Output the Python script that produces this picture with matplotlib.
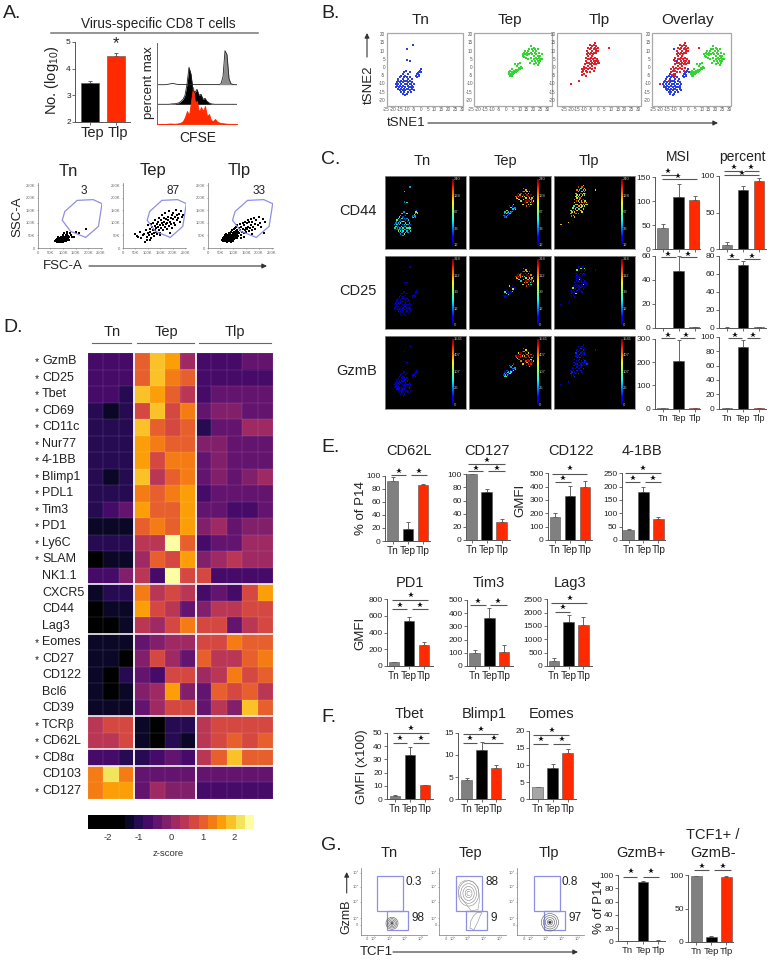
#!/usr/bin/env python3
"""Multi-panel T cell figure: flow plots, tSNE maps, z-score heatmap and bar charts."""

import numpy as np
import matplotlib
matplotlib.use("Agg")
import matplotlib.pyplot as plt
from matplotlib.colors import ListedColormap
from matplotlib.patches import Ellipse, Polygon, Rectangle

plt.rcParams["font.family"] = ["Liberation Sans", "DejaVu Sans"]
plt.rcParams["mathtext.default"] = "regular"

W, H = 772, 960
NARROW = ["Liberation Sans Narrow", "Liberation Sans", "DejaVu Sans"]
GREY, BLACK, RED = "#808080", "#000000", "#ff2a00"
GATE = "#8f8fe6"
TEXT = "#222222"

# ---------------------------------------------------------------------------
# Data
# ---------------------------------------------------------------------------
GROUPS = ["Tn", "Tep", "Tlp"]

# panel A, log10 counts and CFSE traces
COUNT_VALS = [3.47, 4.47]
COUNT_TOPS = [3.55, 4.58]
CFSE_X = list(range(0, 82, 2))
CFSE_TN = [0, 0, 0, 0, 0, .3, .6, 1, 1.2, .8, .4, .2, .2, .3, .2, .2, .2, .2, .2, .1, .1, .1, .1, .1, .1, .1, .1, .1, .1, .1, .1,
           .2, 1, 8, 34, 30, 6, 1, .2, 0, 0]
CFSE_TEP = [0, 0, 0, 0, 0, 0, 0, .3, .5, .5, 1, 1.5, 3, 5, 9, 20, 37, 30, 14, 12, 15, 9, 10, 5, 6, 3, 1.5, .5, .2, 0, 0,
            0, 0, 0, 0, 0, 0, 0, 0, 0, 0]
CFSE_TLP = [0, 0, 0, 0, 0, .2, .5, .5, .3, .3, .5, .8, 1.5, 3, 7, 13, 9, 22, 37, 22, 23, 12, 17, 13, 18, 8, 10, 4, 3, 5, 2.5,
            1.5, 1, .8, .5, .3, .2, .1, .1, .1, .1]

# panel A, FSC/SSC events in thousands
FACS_TN = [(70, 28), (72, 33), (75, 25), (76, 37), (78, 30), (80, 22), (80, 42), (82, 27), (83, 35), (85, 31), (85, 25),
           (86, 40), (88, 28), (88, 36), (90, 22), (90, 33), (92, 45), (92, 27), (93, 38), (95, 30), (95, 24), (96, 35),
           (97, 42), (98, 28), (99, 50), (100, 33), (100, 22), (102, 38), (103, 29), (104, 45), (105, 35), (106, 26),
           (107, 41), (108, 31), (110, 52), (110, 37), (112, 28), (113, 44), (115, 33), (116, 55), (118, 38), (120, 48),
           (122, 30), (125, 42), (128, 60), (130, 50), (135, 45), (145, 45), (150, 65), (165, 60), (190, 75), (115, 62),
           (105, 58)]
FACS_TEP = [(50, 55), (55, 48), (62, 42), (70, 62), (72, 40), (80, 50), (85, 55), (90, 25), (92, 70), (95, 45), (98, 32),
            (100, 60), (102, 90), (105, 50), (108, 75), (110, 65), (112, 40), (114, 95), (116, 55), (118, 85), (120, 72),
            (122, 100), (124, 60), (126, 48), (128, 88), (130, 110), (132, 78), (134, 65), (136, 95), (138, 55), (140, 105),
            (142, 85), (144, 120), (146, 72), (148, 92), (150, 60), (152, 112), (154, 80), (156, 100), (158, 130), (160, 70),
            (162, 90), (164, 120), (166, 105), (168, 82), (170, 140), (172, 95), (174, 115), (176, 75), (178, 100), (180, 125),
            (182, 110), (184, 88), (186, 145), (188, 105), (190, 60), (192, 120), (194, 95), (196, 130), (198, 80), (200, 115),
            (202, 140), (205, 100), (208, 125), (210, 90), (212, 150), (215, 110), (218, 130), (220, 120), (225, 135),
            (228, 105), (232, 145), (235, 125), (240, 130), (150, 50), (130, 70), (110, 30)]
FACS_TLP = [(55, 32), (58, 40), (60, 28), (62, 35), (63, 45), (65, 30), (66, 38), (68, 50), (68, 26), (70, 34), (71, 42),
            (72, 30), (73, 55), (74, 37), (75, 25), (76, 46), (77, 33), (78, 40), (79, 52), (80, 29), (81, 36), (82, 60),
            (83, 44), (84, 32), (85, 49), (86, 38), (87, 27), (88, 56), (89, 42), (90, 34), (91, 65), (92, 47), (93, 30),
            (94, 53), (95, 39), (96, 70), (97, 45), (98, 33), (99, 58), (100, 42), (101, 75), (102, 50), (103, 36), (104, 62),
            (105, 46), (106, 80), (107, 55), (108, 40), (109, 68), (110, 50), (111, 85), (112, 60), (113, 44), (114, 72),
            (115, 55), (116, 90), (118, 65), (120, 48), (122, 78), (124, 58), (126, 95), (128, 70), (130, 52), (132, 85),
            (134, 65), (136, 100), (138, 75), (140, 58), (142, 92), (144, 70), (146, 105), (148, 80), (150, 62), (152, 98),
            (154, 75), (156, 110), (158, 85), (160, 68), (162, 102), (165, 80), (168, 115), (170, 90), (172, 72), (175, 105),
            (178, 85), (180, 120), (183, 95), (186, 75), (190, 110), (195, 90), (200, 125), (205, 100), (210, 85), (215, 115),
            (220, 60), (222, 105), (130, 40), (115, 38), (100, 28), (90, 24), (140, 45), (175, 55)]
FACS_GATE = [(156, 189), (219, 192), (254, 176), (240, 86), (190, 42), (130, 66), (97, 110), (107, 145)]
FACS_PCT = ["3", "87", "33"]

# panel B and C, tSNE coordinates
TSNE_TN = [(-5.5, 14), (-10, 11), (-10, 4.5), (-8, 4), (-3.5, -5), (-3, -4), (-2.5, -5.5), (-2, -3.5), (-1.5, -4.5), (-1, -3),
           (-.5, -2), (0, -1), (.5, -2.5), (-1, -5), (-18, -10), (-17.5, -12), (-17, -9), (-17, -11), (-16.5, -8), (-16, -13),
           (-16, -10), (-16, -7), (-15.5, -12), (-15, -9), (-15, -14), (-15, -11), (-15, -6), (-14.5, -13), (-14, -8), (-14, -10),
           (-14, -15), (-14, -5), (-13.5, -12), (-13, -7), (-13, -14), (-13, -9), (-13, -16), (-13, -4), (-12.5, -11), (-12, -13),
           (-12, -6), (-12, -8), (-12, -15), (-12, -3), (-11.5, -10), (-11, -12), (-11, -17), (-11, -5), (-11, -14), (-11, -8),
           (-10.5, -2), (-10, -10), (-10, -16), (-10, -6), (-10, -13), (-10, -8), (-9.5, -11), (-9, -15), (-9, -4), (-9, -9),
           (-9, -13), (-9, -7), (-8.5, -12), (-8, -10), (-8, -6), (-8, -14), (-8, -3), (-7.5, -8), (-7, -12), (-7, -10), (-7, -15),
           (-6.5, -7), (-6, -11), (-6, -9), (-6, -13), (-5, -10), (-5, -14), (-5.5, -12)]
TSNE_TEP_SMALL = [(2, -4), (2.5, -3), (3, -5), (3, -2), (3.5, -4), (4, -3), (4, -5), (4.5, -1), (5, -4), (5, -2.5), (6, -3.5),
                  (6, -2), (6.5, 2), (7, -3), (7.5, -1.5), (8, 1), (8, -2), (9, -1.5), (9, 2), (9.5, 0), (10, -1), (10, 3),
                  (11, .5), (11.5, -.5)]
TSNE_TEP_BIG = [(12, 8), (12.5, 7), (13, 9), (13, 6.5), (14, 8), (14, 10), (14.5, 6), (15, 9), (15.5, 7.5), (16, 5), (16, 10),
                (17, 8), (17, 11), (17.5, 3), (18, 13), (18, 9), (18, 6), (18.5, 11), (19, 4), (19, 8), (19.5, 10), (20, 12),
                (20, 5), (20, 7), (20.5, 2), (21, 9), (21, 11), (21, 4), (21.5, 6), (22, 10), (22, 8), (22, 3), (22.5, 5), (23, 7),
                (23, 11), (23, 1.5), (23.5, 4), (24, 6), (24, 9), (24, 3), (24.5, 5), (25, 7), (25, 4), (26, 5), (26, 8)]
TSNE_TLP = [(-20, -10), (-14, -8.5), (8, 12), (-12, -3), (-12, -1), (-11.5, -4.5), (-11, -2), (-10.5, .5), (-10, -4), (-10, -1),
            (-9.5, 2), (-9, -5), (-9, -2), (-9, 4), (-9, 6), (-8.5, 0), (-8, -3), (-8, 3), (-8, 8), (-8, 10), (-7.5, 5), (-7, 1),
            (-7, -1), (-7, 7), (-7, 9), (-7, 12), (-6.5, 3), (-6, -3), (-6, 5), (-6, 8), (-6, 11), (-6, 14), (-5.5, 0), (-5, 2),
            (-5, 6), (-5, 9), (-5, 12), (-5, 4), (-4.5, 7), (-4, -1), (-4, 1), (-4, 3), (-4, 10), (-4, 13), (-3.5, 5), (-3.5, 8),
            (-3, 2), (-3, 4), (-3, 11), (-3, 14), (-2.5, 9), (-2, 0), (-2, 3), (-2, 6), (-2, 12), (-2, 15), (-1.5, 10), (-1, 2),
            (-1, 4), (-1, 9), (-1, 11), (-1, 13), (-.5, 5), (0, 3), (0, 10), (0, 12), (.5, 4), (1, 3), (-3, -2), (-6, 2)]
TSNE_TEP = TSNE_TEP_SMALL + TSNE_TEP_BIG

# panel C, expression levels (0-1 on the jet scale), repeated along each population
CD44_TN = [.3, .35, .25, .45, .3, .2, .38, .5, .28, .33, .55, .22, .4, .3]
CD44_TEP_SMALL = [.25, .3, .2, .35, .15, .4, .28, .5]
CD44_TEP_BIG = [.85, .7, .95, .65, .8, .9, .6, .75, 1.0, .55]
CD44_TLP = [.7, .65, .6, .75, .5, .8, .68, .55, .72, .85, .4]
CD25_TN = [.05, .07, .04, .09]
CD25_TEP_SMALL = [.06, .08, .1, .45, .08, .6, .06]
CD25_TEP_BIG = [.9, .7, .95, .6, .85, 1, .45, .8, .75, .35]
CD25_TLP = [.06, .08, .1, .05, .12, .07, .09, .5, .08]
GZMB_TN = [.07, .1, .06, .12]
GZMB_TEP_SMALL = [.2, .3, .4, .15, .35, .25, .5]
GZMB_TEP_BIG = [.9, .78, 1, .7, .95, .65, .85, .88]
GZMB_TLP = [.08, .11, .14, .18, .07, .1, .16, .09]
SCALE_LABELS = {"CD44": ["240", "128", "67", "33", "12"],
                "CD25": ["318", "112", "39", "12", "0"],
                "GzmB": ["1541", "407", "107", "26", "0"]}

# heatmap z-scores, 3 Tn + 4 Tep + 5 Tlp columns
MARKERS = ["GzmB", "CD25", "Tbet", "CD69", "CD11c", "Nur77", "4-1BB", "Blimp1", "PDL1", "Tim3", "PD1", "Ly6C", "SLAM", "NK1.1",
           "CXCR5", "CD44", "Lag3", "Eomes", "CD27", "CD122", "Bcl6", "CD39", "TCRβ", "CD62L", "CD8α", "CD103", "CD127"]
STARRED = ["GzmB", "CD25", "Tbet", "CD69", "CD11c", "Nur77", "4-1BB", "Blimp1", "PDL1", "Tim3", "PD1", "Ly6C", "SLAM",
           "Eomes", "CD27", "TCRβ", "CD62L", "CD8α", "CD127"]
ZSCORES = [
    [-.72, -.72, -.72, 1.0, 1.9, 1.6, .14, -.72, -.72, -.72, -.43, -.43],
    [-.72, -.72, -.72, 1.0, 1.9, 1.3, 1.0, -.72, -.72, -.72, -.72, -.72],
    [-.72, -.72, -1.0, 1.9, 1.6, 1.0, .43, -.72, -.43, -.43, -.43, -.43],
    [-1.0, -1.3, -1.0, .72, 1.9, .72, 1.3, -.43, -.14, -.14, -.43, -.43],
    [-1.0, -1.0, -1.0, 1.9, 1.0, .72, 1.0, -1.0, -.43, -.43, .14, .14],
    [-1.0, -1.0, -1.0, 1.6, 1.3, 1.0, 1.0, -.14, -.14, -.43, -.43, -.43],
    [-1.0, -1.0, -1.0, 1.6, .72, 1.3, 1.3, -.43, -.14, -.43, -.43, -.43],
    [-1.0, -1.3, -1.0, 1.9, .43, 1.0, 1.3, -.43, -.14, -.43, -.14, .14],
    [-1.0, -1.0, -1.0, 1.3, 1.0, 1.3, 1.6, -.72, -.43, -.43, -.43, -.43],
    [-1.0, -.72, -.43, 1.6, 1.0, 1.0, 1.6, -.43, -.43, -.72, -.72, -.43],
    [-1.3, -1.3, -1.3, 1.0, 1.3, 1.0, 1.6, -.14, .14, -.43, -.14, -.14],
    [-1.0, -1.0, -1.0, .43, .43, 2.46, 1.0, -.72, -.43, -.43, .14, .14],
    [-1.74, -1.3, -1.3, .14, 1.0, .72, 1.6, -.14, .14, .43, .14, .14],
    [-.72, -.72, -.14, .43, -.72, 2.46, .72, .72, -.72, -.72, -.72, -.72],
    [-1.3, -1.0, -1.0, 1.3, .43, .72, .43, -.72, -.43, -.72, .72, 1.6],
    [-1.74, -1.3, -1.3, 1.6, .72, .43, -.43, -.14, .43, .43, .72, .72],
    [-1.74, -1.74, -1.3, .43, .14, .72, 1.3, .72, .72, -.43, .43, .72],
    [-1.3, -1.3, -1.3, -.43, -.14, .14, .14, .72, .72, 1.3, 1.0, 1.0],
    [-1.3, -1.3, -1.74, -.14, .72, .14, -.43, 1.0, .43, .43, 1.0, 1.3],
    [-1.3, -1.74, -1.0, -.43, -.72, .72, .72, .14, .43, 1.3, .72, 1.0],
    [-1.3, -1.74, -1.3, -.14, .14, 1.6, -.14, -.43, 1.0, .72, 1.0, .43],
    [-1.3, -1.3, -1.3, -.43, .14, .72, .72, -.43, .43, -.14, 1.9, 1.0],
    [.43, .72, .72, -1.3, -1.74, -1.0, -1.0, .43, .72, .72, .72, .72],
    [.43, .43, .72, -1.3, -1.74, -1.0, -1.3, .43, .72, 1.0, .72, 1.0],
    [-.72, -.72, -1.0, -1.0, -.72, -.43, -.72, .43, 1.0, 1.9, 1.0, 1.0],
    [1.3, 2.17, 1.3, -.43, -.43, -.43, -.43, -.43, -.43, -.43, -.43, -.43],
    [1.3, 1.6, 1.6, -.43, .14, -.14, -.14, -.72, -.72, -.72, -.72, -.72],
]
ZTICKS = [-2, -1, 0, 1, 2]

# bar values (mean, top of the error bar) in Tn, Tep, Tlp order
MSI_CD44 = ([43, 108, 102], [52, 135, 111])
PCT_CD44 = ([5, 81, 93], [9, 86, 97])
MSI_CD25 = ([.2, 47, .5], [.3, 60, 1])
PCT_CD25 = ([.5, 70, 1], [.8, 74, 1.4])
MSI_GZMB = ([2, 205, 4], [3, 295, 5])
PCT_GZMB = ([.5, 86, .5], [.7, 95, .7])
E_CD62L = ([92, 18, 86], [98, 29, 87])
E_CD127 = ([100, 73, 27], [101, 78, 32])
E_CD122 = ([170, 330, 400], [203, 405, 445])
E_41BB = ([38, 180, 80], [42, 200, 88])
E_PD1 = ([45, 540, 250], [50, 590, 290])
E_TIM3 = ([95, 360, 105], [120, 440, 160])
E_LAG3 = ([190, 1660, 1530], [310, 1910, 1830])
F_TBET = ([2.7, 33, 10.5], [3, 39, 11])
F_BLIMP1 = ([4.4, 11.2, 7.1], [4.9, 12.8, 7.7])
F_EOMES = ([3.6, 9, 13.4], [3.7, 10.2, 14.6])
G_GZMB = ([.7, 90, 1], [1, 91, 1.4])
G_TCF1 = ([98, 7, 97], [99, 9, 98])

# panel G, gate percentages and contour outlines
G_PCT_TOP = ["0.3", "88", "0.8"]
G_PCT_BOTTOM = ["98", "9", "97"]
G_TN_RINGS = [18, 14, 10, 6, 3]
G_TLP_RINGS = [26, 20, 14, 8, 4]
G_TEP_RINGS = [36, 28, 20, 12, 6]
G_TEP_LOBE = [(46, 10), (52, 8), (55, 14), (58, 20), (62, 30), (64, 33), (57, 34), (51, 28), (47, 20)]
G_TEP_OUTER = [(28, 70), (32, 78), (40, 82), (50, 80), (58, 72), (60, 60), (60, 50), (58, 38), (48, 36), (42, 44), (36, 52), (30, 58)]

# ---------------------------------------------------------------------------
# Page and helpers (everything placed in reference pixels)
# ---------------------------------------------------------------------------
fig = plt.figure(figsize=(W / 100, H / 100), dpi=100)
page = fig.add_axes([0, 0, 1, 1], zorder=20)
page.set_xlim(0, W)
page.set_ylim(H, 0)
page.axis("off")
page.patch.set_alpha(0)


def ax_px(left, top, right, bottom):
    return fig.add_axes([left / W, 1 - bottom / H, (right - left) / W, (bottom - top) / H])


def label(x, y, s, size=10.5, ha="center", rotation=0, color=TEXT, family=None):
    page.text(x, y, s, fontsize=size, ha=ha, va="center", rotation=rotation, color=color,
              family=family if family else plt.rcParams["font.family"])


def arrow(x0, y0, x1, y1):
    page.annotate("", xy=(x1, y1), xytext=(x0, y0),
                  arrowprops=dict(arrowstyle="-|>", color="#333333", lw=0.8, mutation_scale=7, shrinkA=0, shrinkB=0))


def sig(ox, oy, line_y, x0, x1, star_x, star_y):
    # significance bracket, arguments in 3x crop coordinates
    page.plot([ox + x0 / 3, ox + x1 / 3], [oy + line_y / 3] * 2, color="#555555", lw=0.8, solid_capstyle="butt")
    page.plot(ox + star_x / 3, oy + star_y / 3, marker="*", ms=4.2, color="#111111", mew=0)


def bar_panel(box, centres, data, ticks, show_labels=True, colors=(GREY, BLACK, RED), width=10.7, names=GROUPS,
              size=6, name_size=7.2):
    left, top, right, bottom = box
    ax = ax_px(left, top, right, bottom)
    spacing = centres[1] - centres[0]
    pos = [(c - centres[0]) / spacing for c in centres]
    vals, tops = data
    ax.bar(pos, vals, width=width / spacing, color=colors, edgecolor="#555555", linewidth=0.4, zorder=2)
    ax.errorbar(pos, vals, yerr=[[0] * len(vals), np.array(tops) - np.array(vals)], fmt="none",
                ecolor="#666666", elinewidth=0.7, capsize=1.6, capthick=0.7, zorder=1)
    ax.set_xlim((left - centres[0]) / spacing, (right - centres[0]) / spacing)
    ax.set_ylim(ticks[0], ticks[-1])
    ax.set_yticks(ticks)
    ax.set_xticks(pos)
    ax.set_xticklabels(names if show_labels else [""] * len(pos), family=NARROW, fontsize=name_size, color=TEXT)
    ax.tick_params(axis="y", labelsize=size, length=2, width=0.6, pad=1, color="#555555", labelcolor=TEXT)
    ax.tick_params(axis="x", length=2, width=0.6, pad=1.5, color="#555555")
    for side in ("top", "right"):
        ax.spines[side].set_visible(False)
    for side in ("left", "bottom"):
        ax.spines[side].set_linewidth(0.7)
        ax.spines[side].set_color("#555555")
    ax.patch.set_alpha(0)
    return ax


# ---------------------------------------------------------------------------
# A. counts, CFSE, FSC/SSC
# ---------------------------------------------------------------------------
label(3, 13, "A.", 14, ha="left")
label(158, 24, "Virus-specific CD8 T cells", 9.8)
page.plot([51, 258], [33, 33], color="#777777", lw=1.1)

bar_panel((75, 42, 130, 122), [89.5, 116], (COUNT_VALS, COUNT_TOPS), [2, 3, 4, 5], show_labels=False,
          colors=(BLACK, RED), width=18)
label(52, 80, "No. (log$_{10}$)", 10.5, rotation=90)
label(92, 133, "Tep", 10.5)
label(118, 133, "Tlp", 10.5)
label(116, 44, "*", 12)

ax = ax_px(157, 43, 237, 124)
x_cfse = np.array(CFSE_X)
ax.fill_between(x_cfse, np.array(CFSE_TN) + 39.3, 39.3, where=x_cfse >= 60, color="#8c8c8c", lw=0)
ax.plot(x_cfse, np.array(CFSE_TN) + 39.3, color="#222222", lw=0.6)
ax.fill_between(x_cfse, np.array(CFSE_TEP) + 19.7, 19.7, color="black", lw=0)
ax.plot(x_cfse, np.array(CFSE_TEP) + 19.7, color="#222222", lw=0.6)
ax.fill_between(x_cfse, CFSE_TLP, 0, color=RED, lw=0.6)
ax.set_xlim(0, 80)
ax.set_ylim(0, 81)
ax.set_xticks([])
ax.set_yticks([])
for side in ("top", "right", "bottom"):
    ax.spines[side].set_visible(False)
ax.spines["left"].set_linewidth(0.7)
ax.spines["left"].set_color("#666666")
label(149, 83, "percent max", 9.5, rotation=90)
label(198, 138, "CFSE", 10)

for (x0, x1, tx, pct_x, pts, name, pct) in zip([37.7, 123, 207.7], [101, 185.3, 271.7], [68, 153, 239], [84, 173, 259],
                                               [FACS_TN, FACS_TEP, FACS_TLP], GROUPS, FACS_PCT):
    ax = ax_px(x0, 183, x1 + 1, 248)
    pts = np.array(pts)
    ax.scatter(pts[:, 0], pts[:, 1], s=0.8, color="black", marker="s", lw=0)
    ax.add_patch(Polygon(FACS_GATE, closed=True, fill=False, edgecolor=GATE, lw=0.9))
    ax.set_xlim(0, 254)
    ax.set_ylim(0, 258)
    ax.set_xticks([0, 50, 100, 150, 200, 250])
    ax.set_yticks([0, 50, 100, 150, 200, 250])
    ax.set_xticklabels(["0", "50K", "100K", "150K", "200K", "250K"])
    ax.set_yticklabels(["0", "50K", "100K", "150K", "200K", "250K"])
    ax.tick_params(labelsize=3, length=1, width=0.4, pad=0.8, color="#777777", labelcolor="#666666")
    for side in ("top", "right"):
        ax.spines[side].set_visible(False)
    for side in ("left", "bottom"):
        ax.spines[side].set_linewidth(0.5)
        ax.spines[side].set_color("#777777")
    label(tx, 171, name, 12)
    label(pct_x, 191, pct, 8.5)
label(17, 217, "SSC-A", 9.5, rotation=90)
label(63, 266, "FSC-A", 9.5)
arrow(89, 266, 267, 266)

# ---------------------------------------------------------------------------
# B. tSNE maps
# ---------------------------------------------------------------------------
label(321, 13, "B.", 14, ha="left")
TITLES_B = ["Tn", "Tep", "Tlp", "Overlay"]
TITLE_X_B = [421, 510, 599, 688]
TICK_RANGE = [(288, 517), (545, 772), (822, 1045), (1090, 1318)]
BOX_RANGE = [(290, 520), (553, 785), (801, 1052), (1087, 1323)]
BLUE, GREEN, TSNE_RED = "#2a3fe0", "#33d62e", "#e0202a"
for i, title in enumerate(TITLES_B):
    x0, x1 = [290 + v / 3 for v in TICK_RANGE[i]]
    ax = ax_px(x0, 34.7, x1, 100.3)
    if i in (0, 3):
        pts = np.array(TSNE_TN)
        ax.scatter(pts[:, 0], pts[:, 1], s=1.6, color=BLUE, marker="s", lw=0)
    if i in (1, 3):
        pts = np.array(TSNE_TEP)
        ax.scatter(pts[:, 0], pts[:, 1], s=1.6, color=GREEN, marker="s", lw=0)
    if i in (2, 3):
        pts = np.array(TSNE_TLP)
        ax.scatter(pts[:, 0], pts[:, 1], s=1.6, color=TSNE_RED, marker="s", lw=0)
    ax.set_xlim(-25, 30)
    ax.set_ylim(-20, 20)
    ax.axis("off")
    bx0, bx1 = [290 + v / 3 for v in BOX_RANGE[i]]
    page.add_patch(Rectangle((bx0, 33), bx1 - bx0, 73, fill=False, edgecolor="#a8a8a8", lw=0.9))
    for v in range(-25, 31, 5):
        label(x0 + (v + 25) / 55 * (x1 - x0), 109.5, str(v), 3.3, color="#555555")
    for v in range(-20, 21, 5):
        label(bx0 - 1.5, 67.5 - v * 1.64, str(v), 3.3, ha="right", color="#555555")
    label(TITLE_X_B[i], 20, title, 11)
arrow(367, 57, 367, 33)
label(369, 85, "tSNE2", 9.5, rotation=90)
label(406, 123, "tSNE1", 9.5)
arrow(428, 123, 718, 123)

# ---------------------------------------------------------------------------
# C. marker maps and bars
# ---------------------------------------------------------------------------
label(321, 159, "C.", 14, ha="left")
label(422, 161, "Tn", 10.5)
label(505, 161, "Tep", 10.5)
label(589, 161, "Tlp", 10.5)
TILE_X = [384.7, 469.3, 553.7]
TILE_Y = [176, 256, 335.7]
ROWS_C = ["CD44", "CD25", "GzmB"]
LEVELS_C = [
    [CD44_TN, (CD44_TEP_SMALL, CD44_TEP_BIG), CD44_TLP],
    [CD25_TN, (CD25_TEP_SMALL, CD25_TEP_BIG), CD25_TLP],
    [GZMB_TN, (GZMB_TEP_SMALL, GZMB_TEP_BIG), GZMB_TLP],
]
gradient = np.linspace(1, 0, 128).reshape(-1, 1)
for r, row in enumerate(ROWS_C):
    label(377, TILE_Y[r] + 35, row, 10.5, ha="right")
    for c, pts in enumerate([TSNE_TN, TSNE_TEP, TSNE_TLP]):
        ax = ax_px(TILE_X[c], TILE_Y[r], TILE_X[c] + 81.3, TILE_Y[r] + 73)
        pts = np.array(pts)
        if c == 1:
            small, big = LEVELS_C[r][c]
            lv = np.concatenate([np.resize(small, len(TSNE_TEP_SMALL)), np.resize(big, len(TSNE_TEP_BIG))])
        else:
            lv = np.resize(LEVELS_C[r][c], len(pts))
        ax.scatter(pts[:, 0], pts[:, 1], s=1.1, c=lv, cmap="jet", vmin=0, vmax=1, marker="s", lw=0, alpha=0.9)
        ax.set_xlim(-26, 40)
        ax.set_ylim(-25.5, 21)
        ax.set_facecolor("black")
        ax.set_xticks([])
        ax.set_yticks([])
        for side in ax.spines.values():
            side.set_color("#8a8a8a")
            side.set_linewidth(0.6)
        cb = ax_px(TILE_X[c] + 67.3, TILE_Y[r] + 3.3, TILE_X[c] + 68.8, TILE_Y[r] + 69)
        cb.imshow(gradient, aspect="auto", cmap="jet")
        cb.axis("off")
        for k, text in enumerate(SCALE_LABELS[row]):
            label(TILE_X[c] + 69.5, TILE_Y[r] + 3.3 + k * 16.4, text, 3, ha="left", color="#bbbbbb")

bar_panel((655, 177, 700, 249), [662.6, 678.7, 694.7], MSI_CD44, [0, 50, 100, 150], show_labels=False)
bar_panel((719, 176, 766, 249), [727, 743, 759], PCT_CD44, [0, 50, 100], show_labels=False)
bar_panel((655, 255.7, 700, 328), [662.6, 678.7, 694.7], MSI_CD25, [0, 20, 40, 60], show_labels=False)
bar_panel((719, 255.7, 766, 328), [727, 743, 759], PCT_CD25, [0, 20, 40, 60, 80], show_labels=False)
bar_panel((655, 338.7, 700, 408.7), [662.6, 678.7, 694.7], MSI_GZMB, [0, 100, 200, 300], name_size=6.5)
bar_panel((719, 336.7, 766, 408.7), [727, 743, 759], PCT_GZMB, [0, 20, 40, 60, 80, 100], name_size=6.5)
label(678, 157, "MSI", 10)
label(742, 157, "percent", 10)
OX, OY = 300, 140
sig(OX, OY, 104, 1082, 1127, 1105, 92)
sig(OX, OY, 118, 1085, 1190, 1133, 108)
sig(OX, OY, 92, 1272, 1322, 1303, 82)
sig(OX, OY, 92, 1332, 1378, 1352, 82)
sig(OX, OY, 104, 1272, 1378, 1325, 98)
sig(OX, OY, 351, 1082, 1127, 1105, 343)
sig(OX, OY, 351, 1140, 1190, 1163, 343)
sig(OX, OY, 356, 1282, 1318, 1297, 347)
sig(OX, OY, 356, 1332, 1380, 1356, 347)
sig(OX, OY, 595, 1083, 1125, 1103, 584)
sig(OX, OY, 595, 1140, 1185, 1158, 584)
sig(OX, OY, 595, 1285, 1325, 1304, 584)
sig(OX, OY, 595, 1340, 1380, 1360, 584)

# ---------------------------------------------------------------------------
# D. heatmap
# ---------------------------------------------------------------------------
label(3, 328, "D.", 14, ha="left")
label(112, 332, "Tn", 10.5)
label(166, 332, "Tep", 10.5)
label(235, 332, "Tlp", 10.5)
page.plot([92, 131], [343, 343], color="#666666", lw=0.8)
page.plot([137, 194], [343, 343], color="#666666", lw=0.8)
page.plot([199, 271], [343, 343], color="#666666", lw=0.8)

inferno = plt.get_cmap("inferno")
z_colors = [(0, 0, 0, 1)] * 4 + [inferno(v) for v in np.linspace(0.07, 1, 14)]
z_cmap = ListedColormap(z_colors)
ax = ax_px(88, 353, 273, 799)
ax.imshow(np.array(ZSCORES), aspect="auto", cmap=z_cmap, vmin=-2.61, vmax=2.61, interpolation="nearest")
for v in np.arange(-.5, 12):
    ax.axvline(v, color="white", lw=0.15, alpha=0.5)
for v in np.arange(-.5, 27):
    ax.axhline(v, color="white", lw=0.15, alpha=0.5)
for v in (2.5, 6.5):
    ax.axvline(v, color="#f2eef2", lw=1.4)
for v in (13.5, 16.5, 21.5, 23.5, 24.5):
    ax.axhline(v, color="#f2eef2", lw=1.2)
ax.set_xticks([])
ax.set_yticks([])
for side in ax.spines.values():
    side.set_visible(False)
row_h = 446 / 27
for i, name in enumerate(MARKERS):
    y = 353 + (i + 0.5) * row_h
    label(42, y, name, 9, ha="left")
    if name in STARRED:
        label(37, y + 1, "*", 7.5)

ax = ax_px(88, 815, 254, 829)
ax.imshow(np.linspace(-2.61, 2.61, 18).reshape(1, -1), aspect="auto", cmap=z_cmap, vmin=-2.61, vmax=2.61,
          extent=(-2.61, 2.61, 0, 1), interpolation="nearest")
ax.set_yticks([])
ax.set_xticks(ZTICKS)
ax.set_xticklabels([str(v) for v in ZTICKS])
ax.tick_params(axis="x", labelsize=6.8, length=0, pad=3, labelcolor="#333333")
for side in ax.spines.values():
    side.set_visible(False)
label(168, 854, "z-score", 6.8, color="#333333")

# ---------------------------------------------------------------------------
# E. memory marker bars
# ---------------------------------------------------------------------------
label(321, 447, "E.", 14, ha="left")
OX, OY = 320, 420
bar_panel((385, 475.7, 430, 541), [392.7, 408, 423], E_CD62L, [0, 20, 40, 60, 80, 100])
bar_panel((466, 474.3, 510, 540), [472, 486.7, 501.7], E_CD127, [0, 20, 40, 60, 80, 100])
bar_panel((547.7, 473.3, 592, 540), [555, 570, 585], E_CD122, [0, 100, 200, 300, 400, 500])
bar_panel((621.7, 473.3, 665, 540), [628.7, 643.3, 658.3], E_41BB, [0, 50, 100, 150, 200, 250])
bar_panel((386.7, 599.3, 433, 666), [394, 409, 424], E_PD1, [0, 200, 400, 600, 800])
bar_panel((466.7, 600, 513, 666), [474.7, 489.3, 504], E_TIM3, [0, 100, 200, 300, 400, 500])
bar_panel((546.7, 599.3, 592, 666), [554, 568.7, 583.3], E_LAG3, [0, 500, 1000, 1500, 2000, 2500])
for x, name in zip([409, 487, 570.7, 641.7], ["CD62L", "CD127", "CD122", "4-1BB"]):
    label(x, 451, name, 10.5)
for x, name in zip([410, 489, 570], ["PD1", "Tim3", "Lag3"]):
    label(x, 583, name, 10.5)
label(361, 508, "% of P14", 9.5, rotation=90)
label(520, 500, "GMFI", 9.5, rotation=90)
label(360.7, 633, "GMFI", 9.5, rotation=90)
sig(OX, OY, 166, 213, 258, 236, 153)
sig(OX, OY, 166, 273, 322, 298, 153)
sig(OX, OY, 152, 445, 490, 468, 143)
sig(OX, OY, 152, 505, 555, 530, 143)
sig(OX, OY, 133, 445, 555, 502, 121)
sig(OX, OY, 187, 706, 752, 729, 175)
sig(OX, OY, 162, 695, 800, 750, 145)
sig(OX, OY, 187, 915, 960, 938, 175)
sig(OX, OY, 187, 975, 1022, 998, 175)
sig(OX, OY, 160, 915, 1022, 970, 145)
sig(OX, OY, 568, 217, 260, 240, 555)
sig(OX, OY, 568, 276, 325, 301, 555)
sig(OX, OY, 540, 217, 325, 272, 524)
sig(OX, OY, 556, 450, 497, 474, 542)
sig(OX, OY, 556, 510, 560, 535, 542)
sig(OX, OY, 575, 705, 750, 728, 562)
sig(OX, OY, 550, 693, 800, 750, 533)

# ---------------------------------------------------------------------------
# F. transcription factor bars
# ---------------------------------------------------------------------------
label(321, 717, "F.", 14, ha="left")
OX, OY = 320, 680
bar_panel((386.7, 732.7, 433, 799.3), [395, 410, 425], F_TBET, [0, 10, 20, 30, 40, 50])
bar_panel((458, 732.7, 505, 799.3), [466.7, 481.7, 496], F_BLIMP1, [0, 5, 10, 15])
bar_panel((529, 730.7, 576, 799.3), [537.7, 552.7, 567.7], F_EOMES, [0, 5, 10, 15, 20], colors=("#a6a6a6", BLACK, RED))
label(409, 714, "Tbet", 10.5)
label(484, 714, "Blimp1", 10.5)
label(552, 714, "Eomes", 10.5)
label(361.7, 767, "GMFI (x100)", 9.5, rotation=90)
sig(OX, OY, 188, 220, 262, 241, 175)
sig(OX, OY, 188, 278, 327, 303, 175)
sig(OX, OY, 160, 220, 327, 274, 145)
sig(OX, OY, 188, 428, 472, 450, 175)
sig(OX, OY, 188, 488, 550, 522, 175)
sig(OX, OY, 162, 428, 535, 483, 147)
sig(OX, OY, 192, 640, 683, 664, 178)
sig(OX, OY, 192, 700, 750, 727, 178)
sig(OX, OY, 165, 640, 748, 697, 149)

# ---------------------------------------------------------------------------
# G. TCF1 / GzmB contours and bars
# ---------------------------------------------------------------------------
label(321, 845, "G.", 14, ha="left")
label(389, 853, "Tn", 10.5)
label(470, 853, "Tep", 10.5)
label(549, 853, "Tlp", 10.5)
G_LEFT = [360.7, 439.3, 517.3]
G_PCT_X = [281, 515, 750]
G_PCT_X2 = [295, 521, 765]
G_RINGS = [(47, 17.5, G_TN_RINGS), (49, 19, G_TLP_RINGS)]
for i in range(3):
    ax = ax_px(G_LEFT[i], 868, G_LEFT[i] + 66.6, 935)
    ax.add_patch(Rectangle((25, 36), 38.5, 51.5, fill=False, edgecolor=GATE, lw=0.9))
    ax.add_patch(Rectangle((40, 7.5), 31, 28.5, fill=False, edgecolor=GATE, lw=0.9))
    if i == 1:
        for w in G_TEP_RINGS:
            ax.add_patch(Ellipse((44, 62), w * 0.85, w * 1.05, fill=False, edgecolor="#8a8a8a", lw=0.4))
        ax.add_patch(Polygon(G_TEP_OUTER, closed=True, fill=False, edgecolor="#999999", lw=0.4))
        ax.add_patch(Polygon(G_TEP_LOBE, closed=True, fill=False, edgecolor="#8a8a8a", lw=0.4))
        ax.plot(44, 62, "o", ms=1.2, color="white", zorder=5)
    else:
        cx, cy, rings = G_RINGS[0 if i == 0 else 1]
        for w in rings:
            ax.add_patch(Ellipse((cx, cy), w, w, fill=w < 6, facecolor="#333333", edgecolor="#666666", lw=0.45))
    ax.set_xlim(0, 100)
    ax.set_ylim(0, 100)
    ax.set_xticks([10, 20, 43, 66, 90])
    ax.set_yticks([15, 25, 50, 72, 93])
    ax.set_xticklabels(["0", "10²", "10³", "10⁴", "10⁵"], family="DejaVu Sans")
    ax.set_yticklabels(["0", "10²", "10³", "10⁴", "10⁵"], family="DejaVu Sans")
    ax.tick_params(labelsize=2.6, length=1, width=0.4, pad=0.6, color="#777777", labelcolor="#666666")
    for side in ("top", "right"):
        ax.spines[side].set_visible(False)
    for side in ("left", "bottom"):
        ax.spines[side].set_linewidth(0.5)
        ax.spines[side].set_color("#777777")
    label(320 + G_PCT_X[i] / 3, 680 + 605 / 3, G_PCT_TOP[i], 8.5)
    label(320 + G_PCT_X2[i] / 3, 680 + 714 / 3, G_PCT_BOTTOM[i], 8.5)
label(346.7, 917, "GzmB", 9, rotation=90)
arrow(346.7, 893, 346.7, 872)
label(376, 952, "TCF1", 9.5)
arrow(393, 952, 578, 952)

bar_panel((617.7, 875, 665, 941.3), [627.3, 643, 658.3], G_GZMB, [0, 20, 40, 60, 80, 100], name_size=6.8)
bar_panel((688, 875, 732.7, 942), [696.3, 711.3, 726.3], G_TCF1, [0, 50, 100], name_size=6.8)
label(640.7, 853, "GzmB+", 10.5)
label(712.7, 835, "TCF1+ /", 10.5)
label(712.7, 853, "GzmB-", 10.5)
label(599, 907, "% of P14", 9.5, rotation=90)
sig(OX, OY, 590, 908, 952, 932, 574)
sig(OX, OY, 590, 968, 1016, 992, 574)
sig(OX, OY, 570, 1122, 1168, 1145, 558)
sig(OX, OY, 570, 1182, 1232, 1208, 558)

fig.savefig("out.png", dpi=100)
